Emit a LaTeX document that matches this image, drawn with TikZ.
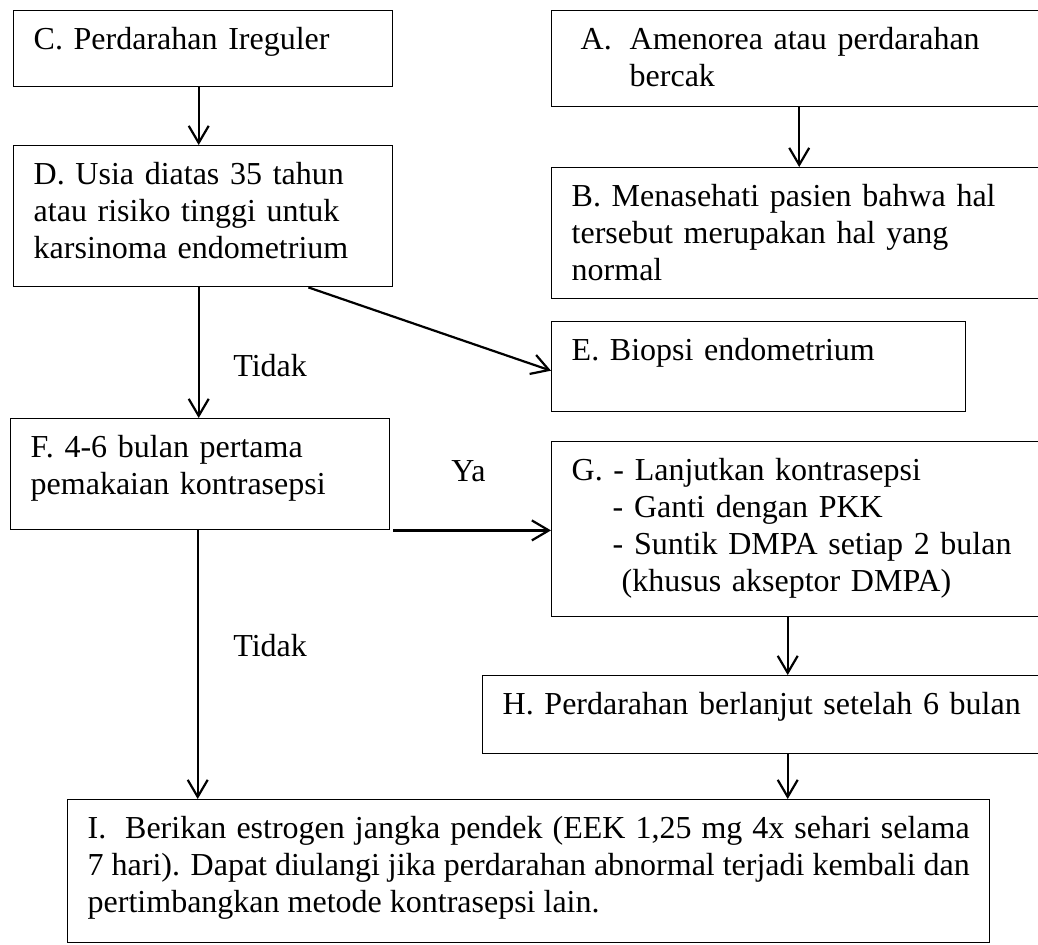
\documentclass[tikz,border=0pt]{standalone}
\usepackage{fontspec}
\setmainfont{Liberation Serif}
\usetikzlibrary{arrows.meta}

\tikzset{
    box/.style={draw, line width=0.7pt, anchor=north west, align=left,
        inner xsep=10pt, inner ysep=6pt, text height=13.5pt,
        font=\fontsize{16pt}{18.5pt}\selectfont},
    lbl/.style={anchor=base west, inner sep=0pt,
        font=\fontsize{16pt}{18.5pt}\selectfont},
    arr/.style={line width=1.1pt, -{Straight Barb[length=8.5pt,width=10pt]}}
}

\begin{document}
\begin{tikzpicture}[x=0.5pt,y=-0.5pt]
        \useasboundingbox (0,0) rectangle (1038,944);

        \node[box, text width=169.5pt, text depth=12.5pt] (C) at (13,10)
            {C. Perdarahan Ireguler};
        \node[box, text width=169.5pt, text depth=45pt] (D) at (13,145)
            {D. Usia diatas 35 tahun\\atau risiko tinggi untuk\\karsinoma endometrium};
        \node[box, text width=227.5pt, text depth=22.5pt] (A) at (551,10)
            {\hspace*{4.5pt}\makebox[24.5pt][l]{A.}Amenorea atau perdarahan\\\hspace*{29pt}bercak};
        \node[box, text width=227.5pt, text depth=40pt] (B) at (551,167)
            {B. Menasehati pasien bahwa hal\\tersebut merupakan hal yang\\normal};
        \node[box, text width=187pt, text depth=19.5pt] (E) at (551,321)
            {E. Biopsi endometrium};
        \node[box, text width=169.5pt, text depth=30pt] (F) at (10,418)
            {F. 4-6 bulan pertama\\pemakaian kontrasepsi};
        \node[box, text width=227.5pt, text depth=62pt] (G) at (551,441)
            {G. - Lanjutkan kontrasepsi\\\hspace*{20.5pt}- Ganti dengan PKK\\\hspace*{20.5pt}- Suntik DMPA setiap 2 bulan\\\hspace*{25pt}(khusus akseptor DMPA)};
        \node[box, text width=262pt, text depth=13.5pt] (H) at (482,675)
            {H. Perdarahan berlanjut setelah 6 bulan};
        \node[box, align=justify, text width=441pt, text depth=46pt] (I) at (67,799)
            {\makebox[18.75pt][l]{I.}Berikan estrogen jangka pendek (EEK 1,25 mg 4x sehari selama\linebreak
            7 hari). Dapat diulangi jika perdarahan abnormal terjadi kembali dan\linebreak
            pertimbangkan metode kontrasepsi lain.};

        \draw[arr] ([xshift=-2.25pt]C.south) -- ([xshift=-2.25pt]C.south |- D.north);
        \draw[arr] (A.south) -- (B.north);
        \draw[arr] ([xshift=-42.5pt]D.south east) -- ([yshift=-2pt]E.west);
        \draw[arr] ([xshift=-2.25pt]D.south) -- ([xshift=-2.25pt]D.south |- F.north);
        \node[lbl] (tidak1) at (233,376) {Tidak};
        \draw[arr] ([xshift=1.5pt]F.south east) -- (F.south east -| G.west);
        \node[lbl] (ya) at (451,481) {Ya};
        \draw[arr] ([xshift=-1.25pt]F.south) -- ([xshift=-1.25pt]F.south |- I.north);
        \node[lbl] (tidak2) at (233,656) {Tidak};
        \draw[arr] ([xshift=-5.75pt]G.south) -- ([xshift=-5.75pt]G.south |- H.north);
        \draw[arr] ([xshift=11.5pt]H.south) -- ([xshift=11.5pt]H.south |- I.north);

    \end{tikzpicture}
\end{document}
